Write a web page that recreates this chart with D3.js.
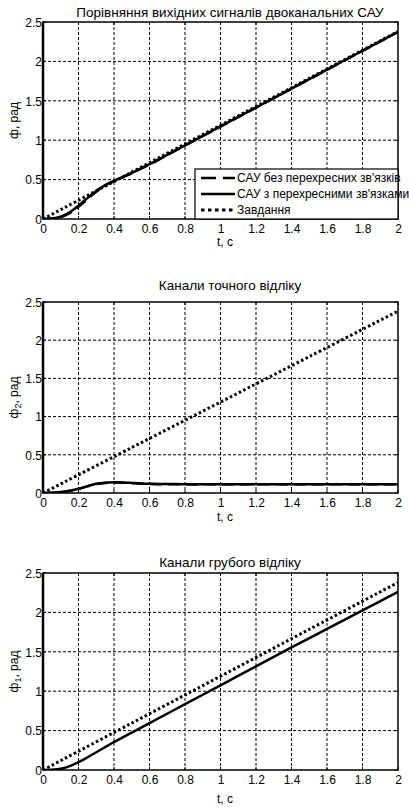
<!DOCTYPE html>
<html><head><meta charset="utf-8">
<script src="https://cdn.jsdelivr.net/npm/d3@7"></script>
<style>body{margin:0;background:#fff}svg{display:block}text{font-family:"Liberation Sans",Arial,sans-serif;fill:#000}</style>
</head><body>
<script>
// ---- data ----
const xTicks = [0,0.2,0.4,0.6,0.8,1,1.2,1.4,1.6,1.8,2];
const yTicks = [0,0.5,1,1.5,2,2.5];
const titles = ["Порівняння вихідних сигналів двоканальних САУ","Канали точного відліку","Канали грубого відліку"];
const yLabels = [["ф",null],["ф","2"],["ф","1"]];
const legendLabels = ["САУ без перехресних зв'язків","САУ з перехресними зв'язками","Завдання"];

const tTask = [0,0.5,1,1.5,2];
const task = [0,0.595,1.19,1.785,2.38];

const t1 = [0,0.05,0.1,0.15,0.2,0.25,0.3,0.35,0.4,0.45,0.5,0.55,0.6,0.8,1.0,1.2,1.4,1.6,1.8,2.0];
const sys1Solid = [0,0.005,0.03,0.085,0.17,0.265,0.355,0.43,0.485,0.535,0.585,0.64,0.695,0.935,1.175,1.415,1.655,1.895,2.135,2.375];
const sys1Dash  = [0,0.004,0.025,0.075,0.155,0.25,0.345,0.425,0.48,0.53,0.58,0.635,0.69,0.933,1.173,1.413,1.653,1.893,2.133,2.373];

const t2 = [0,0.05,0.1,0.15,0.2,0.25,0.3,0.35,0.4,0.45,0.5,0.55,0.6,0.7,0.8,1.0,1.5,2.0];
const fineSolid = [0,0.003,0.012,0.03,0.055,0.09,0.12,0.135,0.14,0.138,0.132,0.125,0.12,0.117,0.116,0.116,0.116,0.116];
const fineDash  = [0,0.002,0.01,0.027,0.052,0.087,0.117,0.132,0.137,0.135,0.129,0.122,0.117,0.114,0.113,0.113,0.113,0.113];

const t3 = [0,0.05,0.1,0.15,0.2,0.25,0.3,0.35,0.4,0.5,0.6,0.8,1.0,1.2,1.4,1.6,1.8,2.0];
const coarseSolid = [0,0.002,0.015,0.05,0.1,0.16,0.225,0.29,0.355,0.475,0.595,0.835,1.075,1.315,1.555,1.79,2.025,2.26];

// ---- layout ----
const W = 409, H = 808;
const L = 43, R = 398;
const panels = [
  {top:22, bottom:219, title:17, tick:233, xlab:246, series:[
     {t:t1, v:sys1Dash, style:"dash"},{t:t1, v:sys1Solid, style:"solid"},{t:tTask, v:task, style:"dot"}], legend:true},
  {top:302, bottom:493, title:290, tick:507, xlab:521, series:[
     {t:t2, v:fineDash, style:"dash"},{t:t2, v:fineSolid, style:"solid"},{t:tTask, v:task, style:"dot"}]},
  {top:573, bottom:770, title:567, tick:784, xlab:803, series:[
     {t:t3, v:coarseSolid, style:"solid"},{t:tTask, v:task, style:"dot"}]}
];
const styles = {
  solid:{w:2.5, dash:null},
  dash:{w:2.5, dash:"12,6"},
  dot:{w:3, dash:"2.5,2.5"}
};

const svg = d3.select("body").append("svg").attr("width",W).attr("height",H);
const x = d3.scaleLinear().domain([0,2]).range([L,R]);

panels.forEach((p,i)=>{
  const y = d3.scaleLinear().domain([0,2.5]).range([p.bottom,p.top]);
  const g = svg.append("g");
  g.append("rect").attr("x",L).attr("y",p.top).attr("width",R-L).attr("height",p.bottom-p.top).attr("fill","#fff");
  // grid
  g.selectAll(".gx").data(xTicks.slice(1,-1)).join("line")
    .attr("x1",d=>x(d)).attr("x2",d=>x(d)).attr("y1",p.top).attr("y2",p.bottom)
    .attr("stroke","#000").attr("stroke-width",1).attr("stroke-dasharray","3,2");
  g.selectAll(".gy").data(yTicks.slice(1,-1)).join("line")
    .attr("y1",d=>y(d)).attr("y2",d=>y(d)).attr("x1",L).attr("x2",R)
    .attr("stroke","#000").attr("stroke-width",1).attr("stroke-dasharray","3,2");
  // clip
  const cid = "clip"+i;
  svg.append("clipPath").attr("id",cid).append("rect").attr("x",L).attr("y",p.top-2).attr("width",R-L).attr("height",p.bottom-p.top+2);
  p.series.forEach(s=>{
    const pts = s.t.map((t,k)=>[t,s.v[k]]);
    const line = d3.line().x(d=>x(d[0])).y(d=>y(d[1])).curve(d3.curveCatmullRom.alpha(0.5));
    const st = styles[s.style];
    g.append("path").attr("d",line(pts)).attr("fill","none").attr("stroke","#000")
      .attr("stroke-width",st.w).attr("stroke-dasharray",st.dash).attr("clip-path",`url(#${cid})`);
  });
  // box
  g.append("rect").attr("x",L).attr("y",p.top).attr("width",R-L).attr("height",p.bottom-p.top)
    .attr("fill","none").attr("stroke","#000").attr("stroke-width",1.5);
  g.append("line").attr("x1",L).attr("x2",L).attr("y1",p.top).attr("y2",p.bottom).attr("stroke","#000").attr("stroke-width",2.5);
  // ticks
  const xa = d3.axisBottom(x).tickValues(xTicks).tickSize(0).tickFormat(d=>d3.format("~g")(d));
  const ax = g.append("g").attr("transform",`translate(0,${p.bottom})`).call(xa);
  ax.select(".domain").remove();
  ax.selectAll("text").attr("y",0).attr("dy",null).attr("transform",`translate(0,${p.tick-p.bottom})`).style("font-size","12px").style("font-family","Liberation Sans, Arial, sans-serif");
  const ya = d3.axisLeft(y).tickValues(yTicks).tickSize(0).tickFormat(d=>d3.format("~g")(d));
  const ay = g.append("g").attr("transform",`translate(${L},0)`).call(ya);
  ay.select(".domain").remove();
  ay.selectAll("text").attr("x",-1).attr("dy","0.35em").style("font-size","12px").style("font-family","Liberation Sans, Arial, sans-serif");
  // inward tick marks
  xTicks.forEach(t=>{
    g.append("line").attr("x1",x(t)).attr("x2",x(t)).attr("y1",p.bottom).attr("y2",p.bottom-3).attr("stroke","#000");
    g.append("line").attr("x1",x(t)).attr("x2",x(t)).attr("y1",p.top).attr("y2",p.top+3).attr("stroke","#000");
  });
  yTicks.forEach(t=>{
    g.append("line").attr("x1",L).attr("x2",L+3).attr("y1",y(t)).attr("y2",y(t)).attr("stroke","#000");
    g.append("line").attr("x1",R).attr("x2",R-3).attr("y1",y(t)).attr("y2",y(t)).attr("stroke","#000");
  });
  // title
  g.append("text").attr("x",230).attr("y",p.title).attr("text-anchor","middle").style("font-size","13.5px").text(titles[i]);
  // x label
  g.append("text").attr("x",225).attr("y",p.xlab).attr("text-anchor","middle").style("font-size","12px").text("t, c");
  // y label
  const cy = (p.top+p.bottom)/2;
  const yl = g.append("text").attr("transform",`translate(18,${cy}) rotate(-90)`).attr("text-anchor","middle").style("font-size","12px");
  yl.append("tspan").text(yLabels[i][0]);
  if(yLabels[i][1]) yl.append("tspan").attr("dy",3).style("font-size","9px").text(yLabels[i][1]);
  yl.append("tspan").attr("dy",yLabels[i][1]?-3:0).text(", рад");

  if(p.legend){
    const lx=195, ly=169, lw=R-lx, lh=p.bottom-ly;
    const lg = g.append("g");
    lg.append("rect").attr("x",lx).attr("y",ly).attr("width",lw).attr("height",lh).attr("fill","#fff").attr("stroke","#000").attr("stroke-width",1.2);
    const st = ["dash","solid","dot"];
    legendLabels.forEach((lab,k)=>{
      const yy = ly+9+k*16;
      const s = styles[st[k]];
      lg.append("line").attr("x1",201).attr("x2",235).attr("y1",yy).attr("y2",yy).attr("stroke","#000")
        .attr("stroke-width",s.w).attr("stroke-dasharray",st[k]==="dash"?"15,7":(st[k]==="dot"?"3.5,3.5":null));
      lg.append("text").attr("x",237).attr("y",yy).attr("dy","0.35em").style("font-size","12px").text(lab);
    });
  }
});
</script>
</body></html>
